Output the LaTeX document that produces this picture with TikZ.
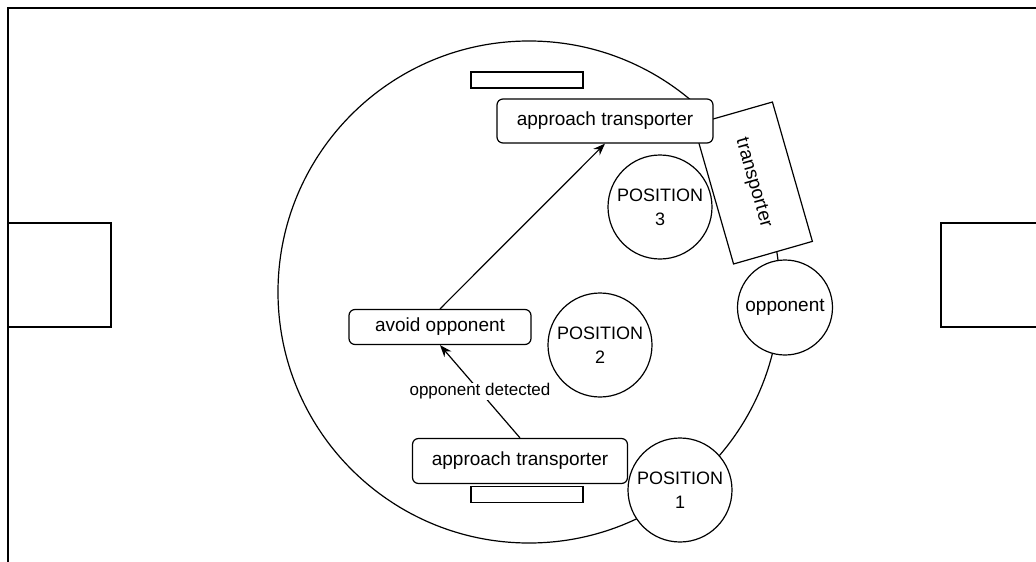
\documentclass[tikz,border=0pt]{standalone}
\usepackage{fontspec}
\setmainfont{Liberation Sans}
\usetikzlibrary{positioning, arrows.meta}
\tikzset{
>={Stealth[length=12pt, width=9pt]}, % filled arrow heads
every node/.style={inner sep=0pt}, % sizes are given by minimum width/height
task/.style={draw, fill=white, rounded corners=6pt, font=\fontsize{19}{22}\selectfont}, % behaviour boxes
spot/.style={draw, fill=white, circle, minimum size=104pt, align=center, font=\fontsize{18}{24}\selectfont}, % field positions
plate/.style={draw, fill=white, minimum width=112pt, minimum height=16pt}, % small bars on the ring
}

\begin{document}
\begin{tikzpicture}[x=1pt, y=-1pt, line width=1.2pt]
    \useasboundingbox (0,0) rectangle (1036,562);

    % field border and goals
    \draw (8,562) -- (8,8) -- (1040,8);
    \draw (8,223) rectangle (111,327);
    \draw (941,223) rectangle (1044,327);

    \node[draw, circle, minimum size=502pt] (ring) at (529,292) {};
    \node[plate] (plateTop) at (527,80) {};
    \node[plate] (plateBot) at (527,494.5) {};

    \node[draw, fill=white, minimum width=145pt, minimum height=82pt, rotate=-74,
          font=\fontsize{19}{22}\selectfont] (transporter) at (753,183) {transporter};
    \node[task, minimum width=216pt, minimum height=44pt] (approachTop) at (605,121) {approach transporter};

    \node[spot] (pos3) at (660,207) {POSITION\\3};
    \node[spot] (pos2) at (600,345) {POSITION\\2};
    \node[draw, fill=white, circle, minimum size=95pt,
          font=\fontsize{19}{22}\selectfont] (opponent) at (785,307.5) {opponent};

    \node[task, minimum width=182pt, minimum height=35pt] (avoid) at (440,327) {avoid opponent};
    \node[task, minimum width=215pt, minimum height=45pt] (approachBot) at (520,461) {approach transporter};
    \node[spot] (pos1) at (680,490) {POSITION\\1};

    \draw[->] (approachBot.north) -- node[fill=white, inner sep=1pt, font=\fontsize{17}{20}\selectfont]{opponent detected} (avoid.south);
    \draw[->] (avoid.north) -- (approachTop.south);
\end{tikzpicture}
\end{document}
